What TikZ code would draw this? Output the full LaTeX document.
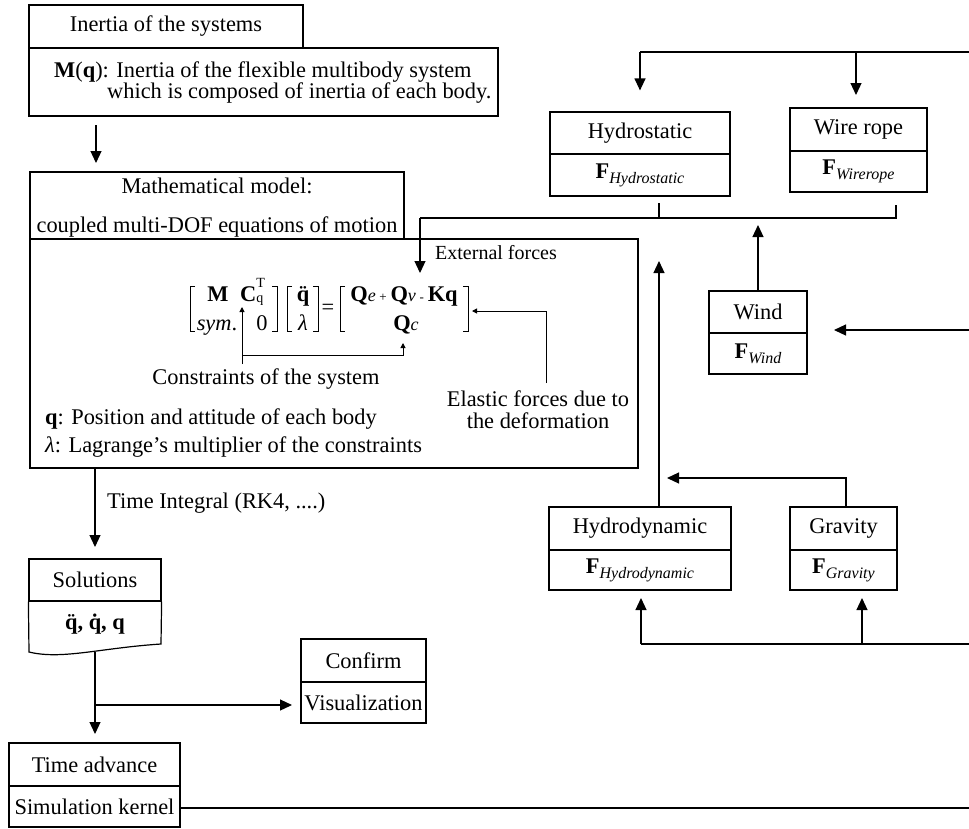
\documentclass[tikz,border=0pt]{standalone}
\usepackage{fontspec}
\setmainfont{Liberation Serif}
\usetikzlibrary{arrows.meta,calc}
\newcommand\fsz[1]{\fontsize{#1}{#1}\selectfont}
\newcommand\Fsub[1]{\textbf{F}\raisebox{-0.22em}{\fsz{16}\itshape #1}}
\newcommand\ddq{\textbf{\ooalign{\hfil\char"00A8\hfil\cr q\cr}}}
\newcommand\dtq{\textbf{\ooalign{\hfil\char"02D9\hfil\cr q\cr}}}
\begin{document}
\begin{tikzpicture}[x=1pt,y=-1pt,
  every node/.style={font=\fontsize{22.4}{22}\selectfont, inner sep=0pt},
  box/.style={draw, line width=1.2pt},
  ln/.style={line width=1.2pt},
  brk/.style={line width=1pt},
  arr/.style={line width=1.2pt, -{Triangle[length=12pt,width=11pt]}},
  sarr/.style={line width=1pt, -{Triangle[length=5pt,width=5pt]}},
]
\useasboundingbox (0,0) rectangle (969,828);

% ---------- inertia ----------
\node[box, minimum width=274pt, minimum height=43pt] (in1) at (166,26.5) {Inertia of the systems};
\node[box, minimum width=469pt, minimum height=68pt] (in2) at (263.5,82) {};
\node[anchor=base west] (in2a) at (54,77) {\textbf{M}(\textbf{q}): Inertia of the flexible multibody system};
\node[anchor=base west] (in2b) at (107,98) {which is composed of inertia of each body.};

\coordinate (a1s) at (96,125);
\coordinate (a1e) at (96,163);
\draw[arr] (a1s) -- (a1e);

% ---------- mathematical model ----------
\node[box, minimum width=374pt, minimum height=67pt] (mm) at (217,205.5) {};
\node[anchor=base] (mm1) at (217,193) {Mathematical model:};
\node[anchor=base] (mm2) at (217,232) {coupled multi-DOF equations of motion};
\node[box, minimum width=608pt, minimum height=229pt] (big) at (334,353.5) {};

% equation
\node[anchor=base] (mM) at (218,301) {\textbf{M}};
\node[anchor=base west] (mC) at (240,301) {\textbf{C}\rlap{\raisebox{0.62em}{\fsz{14}T}}\raisebox{-0.05em}{\fsz{14}q}};
\node[anchor=base] (msym) at (217,330) {\textit{sym}.};
\node[anchor=base] (mz) at (262,330) {0};
\node[anchor=base] (vq) at (303,301) {\ddq};
\node[anchor=base] (vl) at (303,330) {\textit{λ}};
\node (eq) at (328,309) {=};
\node[anchor=base] (r1) at (404,301) {\textbf{Q}{\fsz{18}\itshape e}\,{\fsz{13}+}\,\textbf{Q}{\fsz{18}\itshape v}\,{\fsz{13}-}\,\textbf{Kq}};
\node[anchor=base] (r2) at (406,330) {\textbf{Q}{\fsz{18}\itshape c}};
\draw[brk] (195,286) -- (190,286) -- (190,331) -- (195,331);
\draw[brk] (272,286) -- (277,286) -- (277,331) -- (272,331);
\draw[brk] (292,286) -- (287,286) -- (287,331) -- (292,331);
\draw[brk] (313,286) -- (318,286) -- (318,331) -- (313,331);
\draw[brk] (345,286) -- (340,286) -- (340,331) -- (345,331);
\draw[brk] (463,286) -- (468,286) -- (468,331) -- (463,331);

% constraints
\node[anchor=base] (cons) at (266,384) {Constraints of the system};
\coordinate (cst) at (242,307);
\coordinate (cj) at (242,355);
\coordinate (qct) at (403,343);
\draw[sarr] ([yshift=4pt]cons.north -| cst) -- (cst);
\draw[sarr] (cj) -| (qct);

% elastic
\node[anchor=north, align=center] (elas) at (538,391) {Elastic forces due to\\the deformation};
\coordinate (ec) at (546,311);
\coordinate (et) at (472,311);
\draw[sarr] ([yshift=8pt]elas.north -| ec) -- (ec) -- (et);

\node[anchor=base west] (qd) at (45,424) {\textbf{q}: Position and attitude of each body};
\node[anchor=base west] (ld) at (45,452) {\textit{λ}: Lagrange’s multiplier of the constraints};

% external forces
\node[anchor=west, font=\fsz{20}] (extl) at (435,253) {External forces};
\coordinate (ext) at (420,218);
\coordinate (extt) at (420,273);
\draw[arr] (ext) -- (extt);

% ---------- right side ----------
\node[box, minimum width=180pt, minimum height=42pt] (hs1) at (640,133) {Hydrostatic};
\node[box, minimum width=180pt, minimum height=42pt] (hs2) at (640,175) {\Fsub{Hydrostatic}};
\node[box, minimum width=137pt, minimum height=43pt] (wr1) at (858.5,129.5) {Wire rope};
\node[box, minimum width=137pt, minimum height=41pt] (wr2) at (858.5,171.5) {\Fsub{Wirerope}};
\node[box, minimum width=98pt, minimum height=42pt] (wd1) at (758,312) {Wind};
\node[box, minimum width=98pt, minimum height=41pt] (wd2) at (758,353.5) {\Fsub{Wind}};
\node[box, minimum width=182pt, minimum height=43pt] (hd1) at (640,528.5) {Hydrodynamic};
\node[box, minimum width=182pt, minimum height=40pt] (hd2) at (640,570) {\Fsub{Hydrodynamic}};
\node[box, minimum width=107pt, minimum height=43pt] (gr1) at (843.5,528.5) {Gravity};
\node[box, minimum width=107pt, minimum height=40pt] (gr2) at (843.5,570) {\Fsub{Gravity}};

% top feed
\coordinate (tr) at (969,52);
\coordinate (tl) at (640,52);
\coordinate (tm) at (856,52);
\draw[ln] (tr) -- (tl);
\draw[arr] (tl) -- ([yshift=21pt]hs1.north);
\draw[arr] (tm) -- (856,95);

% collector
\coordinate (hst) at (659,203);
\coordinate (wrt) at (896,205);
\draw[ln] (ext) -- (896,218) -- (wrt);
\draw[ln] (hst) -- (659,219);
\coordinate (wdt) at (758,225);
\draw[arr] (wd1.north) -- (wdt);
\coordinate (wdr) at (969,330);
\draw[arr] (wdr) -- (834,330);

% hydrodynamic / gravity
\coordinate (hdt) at (659,261);
\draw[arr] (hd1.north -| hdt) -- (hdt);
\coordinate (grt) at (667,478);
\draw[arr] (846,507) |- (grt);
\coordinate (br) at (969,644);
\coordinate (bl) at (641,644);
\coordinate (bm) at (862,644);
\draw[ln] (br) -- (bl);
\draw[arr] (bl) -- (641,598);
\draw[arr] (bm) -- (862,598);

% ---------- lower left ----------
\coordinate (ti) at (95,547);
\draw[arr] (big.south -| ti) -- (ti);
\node[anchor=base west] (til) at (107,508) {Time Integral (RK4, ....)};

\node[box, minimum width=132pt, minimum height=42pt] (sol1) at (95,580) {Solutions};
\draw[ln] (sol1.south west) -- (29,652) .. controls (62,660) and (100,648) .. (161,644) -- (sol1.south east);
\node (sol2) at (95,624) {\textbf{\ddq, \dtq, q}};

\coordinate (sb) at (95,652);
\coordinate (sj) at (95,705);
\coordinate (tat) at (95,734);
\coordinate (cft) at (292,705);
\draw[arr] (sb) -- (tat);
\draw[arr] (sj) -- (cft);

\node[box, minimum width=125pt, minimum height=43pt] (cf1) at (363.5,660.5) {Confirm};
\node[box, minimum width=125pt, minimum height=41pt] (cf2) at (363.5,702.5) {Visualization};

\node[box, minimum width=171pt, minimum height=43pt] (ta1) at (94.5,764.5) {Time advance};
\node[box, minimum width=171pt, minimum height=41pt] (ta2) at (94.5,806.5) {Simulation kernel};
\coordinate (sk) at (969,808);
\draw[ln] (ta2.east |- sk) -- (sk);
\end{tikzpicture}
\end{document}
